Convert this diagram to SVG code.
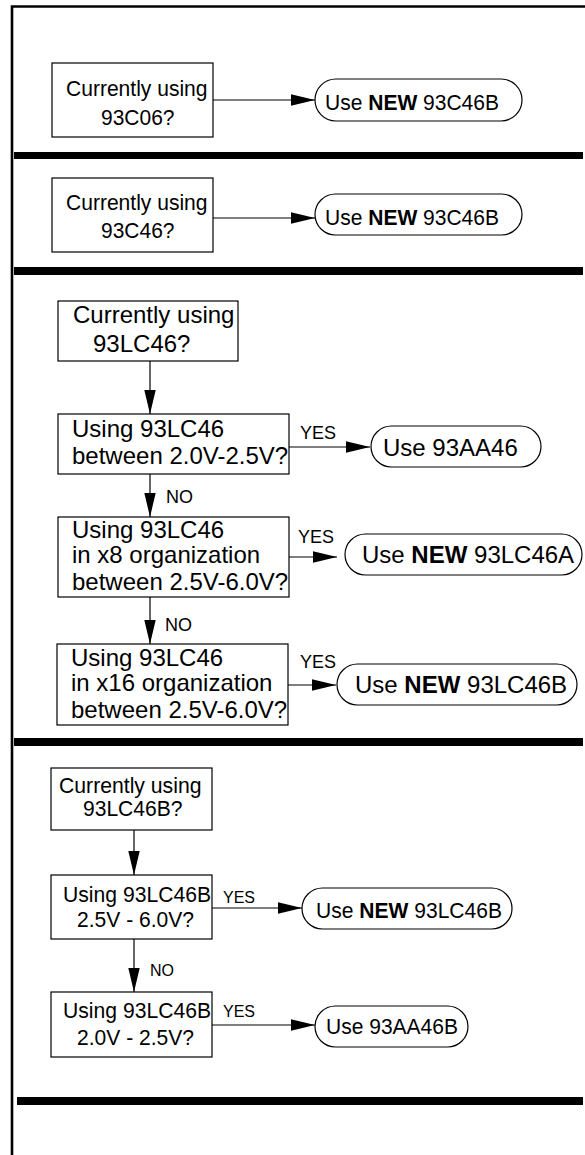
<svg xmlns="http://www.w3.org/2000/svg" width="585" height="1155" viewBox="0 0 585 1155">
<defs>
<marker id="ah" markerUnits="userSpaceOnUse" markerWidth="25" markerHeight="12" refX="24" refY="6" orient="auto"><path d="M0,0.3 L24,6 L0,11.7 z" fill="#000"/></marker>
<style>
.box{fill:#fff;stroke:#000;stroke-width:1.2}
.term{fill:#fff;stroke:#000;stroke-width:1.2}
.bar{fill:#000}
.con{stroke:#000;stroke-width:1.2;fill:none;marker-end:url(#ah)}
text{font-family:"Liberation Sans",Arial,sans-serif;fill:#000}
.t21{font-size:22.2px}
.t24{font-size:24px}
.lbl{font-size:16px}
.lbl18{font-size:18px}
.b{font-weight:bold}
</style>
</defs>
<rect width="585" height="1155" fill="#fff"/>
<path d="M12,1155 V6.5 H585" fill="none" stroke="#000" stroke-width="2.6"/>
<rect class="bar" x="14" y="152" width="569" height="7"/>
<rect class="bar" x="14" y="267" width="569" height="8"/>
<rect class="bar" x="14" y="738" width="569" height="8"/>
<rect class="bar" x="17" y="1097" width="566" height="8"/>

<g id="connectors">
<line class="con" x1="213" y1="100" x2="315" y2="100"/>
<line class="con" x1="213" y1="218" x2="315" y2="218"/>
<line class="con" x1="150" y1="361" x2="150" y2="414"/>
<line class="con" x1="289" y1="447" x2="370" y2="447"/>
<text class="lbl18" x="300" y="439">YES</text>
<line class="con" x1="150" y1="474" x2="150" y2="517"/>
<text class="lbl18" x="166" y="503">NO</text>
<line class="con" x1="289" y1="557" x2="337" y2="557"/>
<text class="lbl18" x="298" y="543">YES</text>
<line class="con" x1="150" y1="597" x2="150" y2="644"/>
<text class="lbl18" x="165" y="631">NO</text>
<line class="con" x1="288" y1="685" x2="336" y2="685"/>
<text class="lbl18" x="300" y="668">YES</text>
<line class="con" x1="134" y1="830" x2="134" y2="875"/>
<line class="con" x1="212" y1="908" x2="302" y2="908"/>
<text class="lbl" x="223" y="903">YES</text>
<line class="con" x1="134" y1="939" x2="134" y2="992"/>
<text class="lbl" x="150" y="976">NO</text>
<line class="con" x1="212" y1="1025" x2="315" y2="1025"/>
<text class="lbl" x="223" y="1017">YES</text>
</g>

<g id="n1">
<rect class="box" x="52" y="63" width="161" height="74"/>
<text class="t21" x="66" y="96" textLength="141.5" lengthAdjust="spacingAndGlyphs">Currently using</text>
<text class="t21" x="101" y="125" textLength="73.5" lengthAdjust="spacingAndGlyphs">93C06?</text>
</g>
<g id="n1r">
<rect class="term" x="315" y="79" width="207" height="42" rx="21"/>
<text class="t21" x="325" y="110" textLength="174" lengthAdjust="spacingAndGlyphs">Use <tspan class="b">NEW</tspan> 93C46B</text>
</g>
<g id="n2">
<rect class="box" x="52" y="178" width="161" height="74"/>
<text class="t21" x="66" y="210" textLength="141.5" lengthAdjust="spacingAndGlyphs">Currently using</text>
<text class="t21" x="101" y="238" textLength="73.5" lengthAdjust="spacingAndGlyphs">93C46?</text>
</g>
<g id="n2r">
<rect class="term" x="315" y="194" width="207" height="41" rx="20.5"/>
<text class="t21" x="325" y="225" textLength="174" lengthAdjust="spacingAndGlyphs">Use <tspan class="b">NEW</tspan> 93C46B</text>
</g>

<g id="n3">
<rect class="box" x="58" y="301" width="180" height="60"/>
<text class="t24" x="73" y="323">Currently using</text>
<text class="t24" x="93" y="352">93LC46?</text>
</g>
<g id="n4">
<rect class="box" x="58" y="414" width="231" height="60"/>
<text class="t24" x="72" y="437">Using 93LC46</text>
<text class="t24" x="72" y="464">between 2.0V-2.5V?</text>
</g>
<g id="n4r">
<rect class="term" x="371" y="426" width="170" height="41" rx="20.5"/>
<text class="t24" x="383" y="456">Use 93AA46</text>
</g>
<g id="n5">
<rect class="box" x="58" y="517" width="231" height="80"/>
<text class="t24" x="72" y="538">Using 93LC46</text>
<text class="t24" x="72" y="563">in x8 organization</text>
<text class="t24" x="72" y="590">between 2.5V-6.0V?</text>
</g>
<g id="n5r">
<rect class="term" x="345" y="534" width="237" height="41" rx="20.5"/>
<text class="t24" x="362" y="563">Use <tspan class="b">NEW</tspan> 93LC46A</text>
</g>
<g id="n6">
<rect class="box" x="57" y="644" width="231" height="81"/>
<text class="t24" x="71" y="666">Using 93LC46</text>
<text class="t24" x="71" y="691">in x16 organization</text>
<text class="t24" x="71" y="718">between 2.5V-6.0V?</text>
</g>
<g id="n6r">
<rect class="term" x="337" y="664" width="240" height="41" rx="20.5"/>
<text class="t24" x="355" y="693">Use <tspan class="b">NEW</tspan> 93LC46B</text>
</g>

<g id="n7">
<rect class="box" x="51" y="768" width="161" height="62"/>
<text class="t21" x="59" y="793" textLength="142.5" lengthAdjust="spacingAndGlyphs">Currently using</text>
<text class="t21" x="83" y="816" textLength="99.5" lengthAdjust="spacingAndGlyphs">93LC46B?</text>
</g>
<g id="n8">
<rect class="box" x="51" y="875" width="161" height="64"/>
<text class="t21" x="63" y="902" textLength="148" lengthAdjust="spacingAndGlyphs">Using 93LC46B</text>
<text class="t21" x="77" y="927" textLength="117" lengthAdjust="spacingAndGlyphs">2.5V - 6.0V?</text>
</g>
<g id="n8r">
<rect class="term" x="302" y="888" width="210" height="41" rx="20.5"/>
<text class="t21" x="316" y="918" textLength="186" lengthAdjust="spacingAndGlyphs">Use <tspan class="b">NEW</tspan> 93LC46B</text>
</g>
<g id="n9">
<rect class="box" x="51" y="992" width="161" height="65"/>
<text class="t21" x="63" y="1018" textLength="148" lengthAdjust="spacingAndGlyphs">Using 93LC46B</text>
<text class="t21" x="77" y="1045" textLength="117" lengthAdjust="spacingAndGlyphs">2.0V - 2.5V?</text>
</g>
<g id="n9r">
<rect class="term" x="315" y="1006" width="153" height="41" rx="20.5"/>
<text class="t21" x="326" y="1034" textLength="132" lengthAdjust="spacingAndGlyphs">Use 93AA46B</text>
</g>
</svg>
